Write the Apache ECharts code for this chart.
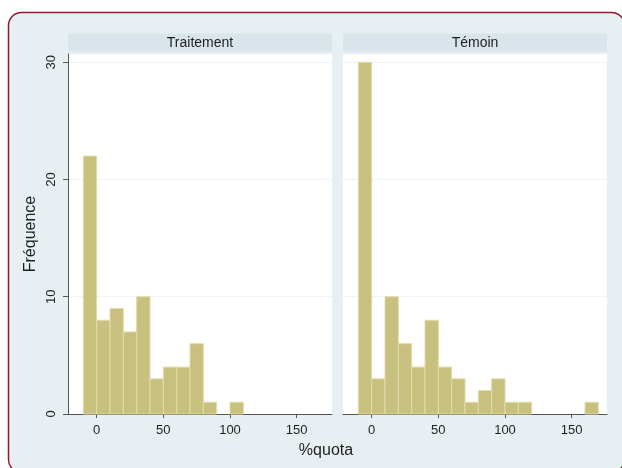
<!DOCTYPE html>
<html>
<head>
<meta charset="utf-8">
<script src="https://cdn.jsdelivr.net/npm/echarts@6/dist/echarts.min.js"></script>
<style>
html,body{margin:0;padding:0;background:#ffffff;}
#chart{width:622px;height:468px;}
</style>
</head>
<body>
<div id="chart"></div>
<script>
// Histogram bins (start of each bin, width 10)
const binStarts = [-10,0,10,20,30,40,50,60,70,80,90,100,110,120,130,140,150,160];
const binWidth = 10;
const traitement = [22,8,9,7,10,3,4,4,6,1,0,1,0,0,0,0,0,0];
const temoin     = [30,3,10,6,4,8,4,3,1,2,3,1,1,0,0,0,0,1];
const panelTitles = ['Traitement','Témoin'];
const xTicks = [0,50,100,150];
const yTicks = [0,10,20,30];

const FONT = '"Liberation Sans", Arial, sans-serif';
const BAR_FILL = '#c8c07f';
const BAR_LINE = '#e2dcaa';
const AXIS_COL = '#555555';
const GRID_COL = '#eef3f6';
const TEXT_COL = '#1e1e1e';

const grids = [
  {left:68, top:54, width:264, height:360, show:true, backgroundColor:'#ffffff', borderWidth:0},
  {left:343, top:54, width:264, height:360, show:true, backgroundColor:'#ffffff', borderWidth:0}
];

function xAxisFor(i){
  return {
    type:'value', gridIndex:i, min:-21.5, max:176.5,
    axisLine:{show:true, onZero:false, lineStyle:{color:AXIS_COL, width:1}},
    axisTick:{show:true, length:4, customValues:xTicks, lineStyle:{color:AXIS_COL}},
    axisLabel:{show:true, customValues:xTicks, margin:10, fontFamily:FONT, fontSize:13, color:TEXT_COL},
    splitLine:{show:false}
  };
}
function yAxisFor(i){
  const first = i === 0;
  return {
    type:'value', gridIndex:i, min:0, max:30.7,
    name: first ? 'Fréquence' : '',
    nameLocation:'middle', nameGap:29,
    nameTextStyle:{fontFamily:FONT, fontSize:16, color:TEXT_COL},
    axisLine:{show:first, onZero:false, lineStyle:{color:AXIS_COL, width:1}},
    axisTick:{show:first, length:5, customValues:yTicks, lineStyle:{color:AXIS_COL}},
    axisLabel:{show:first, customValues:yTicks, rotate:90, margin:10, fontFamily:FONT, fontSize:13, color:TEXT_COL},
    splitLine:{show:true, lineStyle:{color:GRID_COL, width:1}}
  };
}

function makeData(counts){
  return binStarts.map((s,i)=>[s, counts[i]]).filter(d=>d[1]>0);
}
function renderBar(params, api){
  const s = api.value(0), c = api.value(1);
  const p0 = api.coord([s, c]);
  const p1 = api.coord([s + binWidth, 0]);
  return {
    type:'rect',
    shape:{x:p0[0], y:p0[1], width:p1[0]-p0[0], height:p1[1]-p0[1]},
    style:{fill:BAR_FILL, stroke:BAR_LINE, lineWidth:1}
  };
}

const stripY = 33.5, stripH = 18;
const graphics = [
  {type:'rect', z:-10, shape:{x:8.5, y:12.5, width:616, height:460, r:13},
   style:{fill:'#e8eff3', stroke:'#8b1b2e', lineWidth:1.5}},
  {type:'rect', z:-5, shape:{x:68, y:stripY, width:264, height:stripH}, style:{fill:'#d9e4eb'}},
  {type:'rect', z:-5, shape:{x:343, y:stripY, width:264, height:stripH}, style:{fill:'#d9e4eb'}},
  {type:'text', x:200, y:stripY+stripH/2+0.5, style:{text:panelTitles[0], font:'14px '+FONT, fill:TEXT_COL, align:'center', verticalAlign:'middle'}},
  {type:'text', x:475, y:stripY+stripH/2+0.5, style:{text:panelTitles[1], font:'14px '+FONT, fill:TEXT_COL, align:'center', verticalAlign:'middle'}},
  {type:'text', x:326, y:451, style:{text:'%quota', font:'16px '+FONT, fill:TEXT_COL, align:'center', verticalAlign:'middle'}}
];

const chart = echarts.init(document.getElementById('chart'), null, {renderer:'canvas'});
chart.setOption({
  animation:false,
  backgroundColor:'#ffffff',
  grid:grids,
  xAxis:[xAxisFor(0), xAxisFor(1)],
  yAxis:[yAxisFor(0), yAxisFor(1)],
  graphic:graphics,
  series:[
    {type:'custom', xAxisIndex:0, yAxisIndex:0, data:makeData(traitement), renderItem:renderBar, encode:{x:0,y:1}},
    {type:'custom', xAxisIndex:1, yAxisIndex:1, data:makeData(temoin), renderItem:renderBar, encode:{x:0,y:1}}
  ]
});
</script>
</body>
</html>
